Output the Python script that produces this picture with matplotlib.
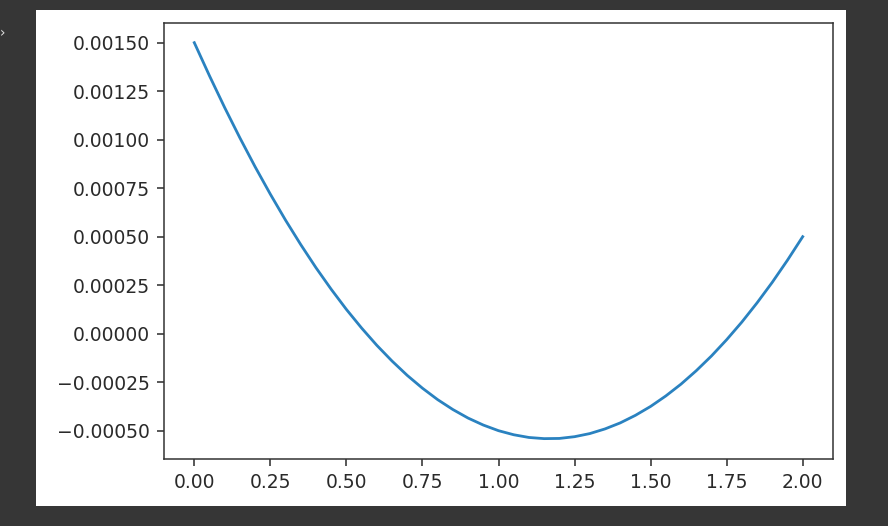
from matplotlib import pyplot as plt
import matplotlib.patches as mpatches

# values
x_vals = [0.0, 0.05, 0.1, 0.15, 0.2, 0.25, 0.3, 0.35, 0.4, 0.45, 0.5,
          0.55, 0.6, 0.65, 0.7, 0.75, 0.8, 0.85, 0.9, 0.95, 1.0,
          1.05, 1.1, 1.15, 1.2, 1.25, 1.3, 1.35, 1.4, 1.45, 1.5,
          1.55, 1.6, 1.65, 1.7, 1.75, 1.8, 1.85, 1.9, 1.95, 2.0]
y_vals = [0.0015, 0.001329, 0.001165, 0.001009, 0.00086, 0.000719,
          0.000585, 0.000459, 0.00034, 0.000229, 0.000125,
          0.000029, -0.00006, -0.000141, -0.000215, -0.000281,
          -0.00034, -0.000391, -0.000435, -0.000471, -0.0005,
          -0.000521, -0.000535, -0.000541, -0.00054, -0.000531,
          -0.000515, -0.000491, -0.00046, -0.000421, -0.000375,
          -0.000321, -0.00026, -0.000191, -0.000115, -0.000031,
          0.00006, 0.000159, 0.000265, 0.000379, 0.0005]

x_ticks = [0.0, 0.25, 0.5, 0.75, 1.0, 1.25, 1.5, 1.75, 2.0]
y_ticks = [-0.0005, -0.00025, 0.0, 0.00025, 0.0005, 0.00075,
           0.001, 0.00125, 0.0015]

W, H = 888, 526
fig = plt.figure(figsize=(W / 100, H / 100), dpi=100)
fig.patch.set_facecolor('#363636')

# white output cell behind the plot
fig.patches.append(mpatches.Rectangle((36 / W, 1 - 506 / H), 810 / W, 496 / H,
                                      transform=fig.transFigure,
                                      facecolor='white', edgecolor='none',
                                      zorder=-5))
fig.text(0, 1 - 33 / H, '›', color='#e0e0e0', fontsize=10,
         ha='left', va='center')

ax = fig.add_axes([164 / W, 1 - 459 / H, (833 - 164) / W, (459 - 22.7) / H])
ax.set_zorder(2)
ax.plot(x_vals, y_vals, color='#2a82c0', lw=2.0)

ax.set_xlim(-0.0996, 2.0996)
ax.set_ylim(-0.000646, 0.001603)
ax.set_xticks(x_ticks)
ax.set_xticklabels(['%.2f' % v for v in x_ticks])
ax.set_yticks(y_ticks)
ax.set_yticklabels([('%.5f' % v).replace('-', '\u2212') for v in y_ticks])

for s in ax.spines.values():
    s.set_linewidth(1.1)
    s.set_color('#333333')
ax.tick_params(labelsize=13.5, length=4.7, width=1.1, pad=5.5,
               colors='#2a2a2a')

fig.savefig('out.png', dpi=100, facecolor=fig.get_facecolor())
